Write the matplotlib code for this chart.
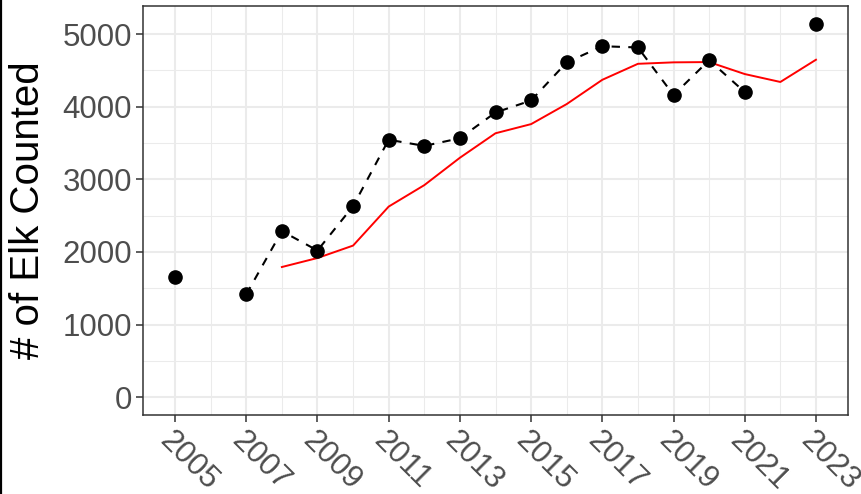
import matplotlib.pyplot as plt
import matplotlib.lines as mlines
from matplotlib.ticker import MultipleLocator
import numpy as np

plt.rcParams['font.family'] = ['Liberation Sans', 'DejaVu Sans']

# Elk counts per year (no survey in 2006 and 2022)
years = [2005, 2006, 2007, 2008, 2009, 2010, 2011, 2012, 2013, 2014,
         2015, 2016, 2017, 2018, 2019, 2020, 2021, 2022, 2023]
counts = [1655, np.nan, 1417, 2287, 2020, 2631, 3545, 3460, 3565, 3920,
          4085, 4610, 4832, 4815, 4160, 4640, 4201, np.nan, 5138]

# smoothed trend line
trend_years = [2008, 2009, 2010, 2011, 2012, 2013, 2014, 2015,
               2016, 2017, 2018, 2019, 2020, 2021, 2022, 2023]
trend = [1793, 1917, 2088, 2625, 2920, 3297, 3634, 3760,
         4036, 4370, 4590, 4610, 4614, 4449, 4340, 4646]

tick_years = list(range(2005, 2024, 2))

fig = plt.figure(figsize=(8.61, 4.94), dpi=100)
ax = fig.add_axes([0.1661, 0.1599, 0.8188, 0.828])

ax.plot(years, counts, color='black', lw=1.5, linestyle=(0, (4, 4)), zorder=3)
ax.plot(years, counts, 'o', color='black', markersize=9.5, zorder=4)
ax.plot(trend_years, trend, color='#ff0000', lw=1.4, zorder=3)

ax.set_xlim(2004.1, 2023.9)
ax.set_ylim(-244, 5386)

ax.set_xticks(tick_years)
ax.xaxis.set_minor_locator(MultipleLocator(1))
ax.yaxis.set_major_locator(MultipleLocator(1000))
ax.yaxis.set_minor_locator(MultipleLocator(500))

ax.grid(which='major', color='#ebebeb', lw=1.5, zorder=0)
ax.grid(which='minor', color='#ebebeb', lw=0.75, zorder=0)
ax.set_axisbelow(True)

for s in ax.spines.values():
    s.set_color('#333333')
    s.set_linewidth(1.1)

ax.tick_params(which='major', length=5, width=1.1, color='#333333',
               labelsize=22.5, labelcolor='#4d4d4d', pad=3)
ax.tick_params(which='minor', length=0)

for lab in ax.get_xticklabels():
    lab.set_rotation(-45)
    lab.set_ha('left')
    lab.set_va('top')
    lab.set_rotation_mode('anchor')

ax.set_ylabel('# of Elk Counted', fontsize=29, color='black', va='center')
ax.yaxis.set_label_coords(-0.163, 0.5)

# dark strip on the left edge of the original image
fig.add_artist(mlines.Line2D([0.0012, 0.0012], [0, 1], color='black', lw=1.6,
                             transform=fig.transFigure))

fig.savefig('out.png', dpi=100)
